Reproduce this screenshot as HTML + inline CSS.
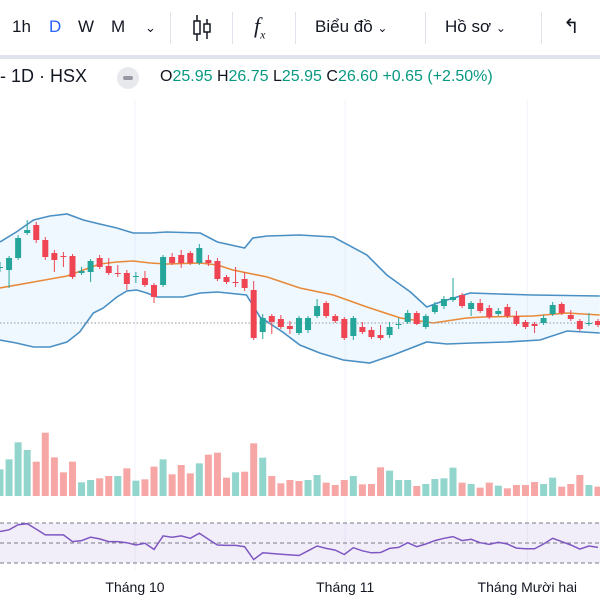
<!DOCTYPE html>
<html><head><meta charset="utf-8">
<style>
html,body{margin:0;padding:0;width:600px;height:600px;overflow:hidden;background:#fff;font-family:"Liberation Sans","Noto Sans CJK SC",sans-serif;color:#131722}
#tb{position:absolute;left:0;top:0;width:600px;height:55px;border-bottom:4px solid #e0e3eb;background:#fff}
.t{position:absolute;top:17px;font-size:17px}
.sep{position:absolute;top:12px;width:1px;height:32px;background:#e0e3eb}
#leg{position:absolute;top:66px;left:0;font-size:18px;white-space:nowrap}
.g{color:#089981}
svg{position:absolute;left:0;top:0}
</style></head><body>
<div id="tb">
<span class="t" style="left:12px">1h</span>
<span class="t" style="left:49px;color:#2962ff">D</span>
<span class="t" style="left:78px">W</span>
<span class="t" style="left:111px">M</span>
<span class="t" style="left:145px;font-size:13px;top:20px">⌄</span>
<div class="sep" style="left:170px"></div>
<svg width="20" height="30" style="left:193px;top:13px"><path d="M4 2v26M14 6v20" stroke="#131722" stroke-width="1.5"/><rect x="1" y="8" width="6" height="13" fill="#fff" stroke="#131722" stroke-width="1.5"/><rect x="11" y="11" width="6" height="8" fill="#fff" stroke="#131722" stroke-width="1.5"/></svg>
<div class="sep" style="left:232px"></div>
<span class="t" style="left:254px;font-style:italic;font-family:'Liberation Serif',serif;font-size:22px;top:13px">f<sub style="font-size:12px">x</sub></span>
<div class="sep" style="left:295px"></div>
<span class="t" style="left:315px">Biểu đồ <span style="font-size:12px">⌄</span></span>
<div class="sep" style="left:425px"></div>
<span class="t" style="left:445px">Hồ sơ <span style="font-size:12px">⌄</span></span>
<div class="sep" style="left:541px"></div>
<span class="t" style="left:563px;font-size:20px;top:14px">↰</span>
</div>
<div id="leg">
<span style="position:absolute;left:0">- 1D · HSX</span>
<span style="position:absolute;left:117px;top:1px;width:22px;height:22px;border-radius:11px;background:#e8e9ec"><span style="position:absolute;left:6px;top:9px;width:10px;height:4px;border-radius:2px;background:#9598a1"></span></span>
<span style="position:absolute;left:160px;top:2px;font-size:16px">O<span class="g">25.95</span> H<span class="g">26.75</span> L<span class="g">25.95</span> C<span class="g">26.60</span> <span class="g">+0.65 (+2.50%)</span></span>
</div>
<svg id="ch" width="600" height="600" style="top:0"></svg>
<script>
const opens=[29.4,29.25,29.85,31.1,31.5,30.75,30.1,29.95,29.95,29.1,29.15,29.85,29.45,29.1,29.1,28.95,28.85,28.5,28.5,29.9,30.0,30.1,29.6,29.75,29.7,28.9,28.65,28.8,28.25,26.15,26.95,26.8,26.45,26.1,26.25,26.95,27.6,26.95,26.8,25.95,26.4,26.25,26.0,26.0,26.55,26.65,27.1,26.4,27.15,27.45,27.75,28.0,27.3,27.6,27.35,27.05,27.4,26.95,26.65,26.55,26.6,27.05,27.55,27.0,26.7,26.6,26.7];
const highs=[29.65,29.95,31.0,31.75,31.65,30.9,30.25,30.15,30.05,29.4,29.8,30.0,29.85,29.5,29.25,29.15,29.2,28.6,30.0,30.1,30.25,30.2,30.55,30.0,29.85,29.0,29.4,29.15,28.7,27.05,27.05,27.0,26.7,26.95,26.95,27.8,27.7,27.05,26.9,26.95,26.65,26.4,26.5,26.65,26.85,27.25,27.2,27.05,27.65,27.95,28.85,28.1,27.7,27.8,27.5,27.35,27.55,27.2,26.75,26.65,27.0,27.65,27.65,27.25,26.8,27.1,26.8];
const lows=[29.15,28.35,29.75,31.0,30.6,29.75,29.15,29.4,28.8,29.0,28.65,29.3,29.0,28.9,28.25,28.6,28.4,27.6,28.4,29.5,29.35,29.5,29.5,29.45,28.7,28.55,28.4,28.2,25.75,25.8,26.05,26.3,26.05,26.0,26.1,26.85,26.85,26.6,25.75,25.75,26.05,25.8,25.75,25.85,26.3,26.55,26.5,26.3,27.05,27.3,27.65,27.35,26.95,27.1,26.8,26.95,26.85,26.45,26.3,26.1,26.5,26.95,27.0,26.7,26.2,26.45,26.4];
const closes=[29.4,29.85,30.85,31.25,30.75,29.9,29.75,29.9,28.9,29.2,29.7,29.4,29.1,29.05,28.55,28.95,28.5,27.9,29.9,29.6,29.6,29.6,30.35,29.6,28.8,28.65,28.6,28.35,25.85,26.85,26.65,26.4,26.3,26.85,26.85,27.45,26.95,26.7,25.85,26.85,26.15,25.9,25.85,26.4,26.55,27.1,26.55,26.95,27.5,27.8,27.9,27.45,27.6,27.2,26.9,27.2,26.95,26.55,26.4,26.45,26.85,27.5,27.1,26.8,26.3,26.6,26.5];
const volumes=[80,110,161,138,103,190,116,71,103,41,48,53,60,60,83,46,50,88,110,65,93,68,98,124,130,55,71,73,158,115,60,38,48,45,48,63,40,33,48,60,35,36,86,76,48,48,30,36,51,53,85,40,36,25,40,31,23,33,33,42,36,55,28,36,63,33,28];
const volUp=[1,1,1,1,0,0,0,0,0,1,1,0,0,1,0,1,0,0,1,0,0,0,1,0,0,0,1,0,0,1,0,0,0,0,1,1,0,0,0,1,0,0,0,1,1,1,0,1,1,1,1,0,1,0,0,1,0,0,0,0,1,1,0,0,0,1,0];
const upIdx=[0,1.8,3.7,5.5,7.4,9.2,11,12.9,14.7,16.6,18.4,22.1,24,27,27.9,29.5,33.1,36.8,40.5,42.7,45.3,47.1,48.6,51.9,55.2,58.8,66.2];
const upper=[30.65,31.15,31.75,31.95,32.05,31.75,31.55,31.35,31.1,31.1,31.15,31.1,30.65,30.35,30.85,30.95,31.0,30.9,30.0,29.0,28.15,27.4,27.65,28.1,28.05,28.0,27.95];
const loIdx=[0,1.8,3.7,5.5,7.4,8.8,10.3,11.4,12.9,14,15.1,16.2,17.3,20.2,22.1,24,27.2,28.7,31.2,33.1,35.3,37.9,40.8,43.4,47.1,49.3,52.2,56,59.6,62.6,66.2];
const lower=[25.75,25.6,25.4,25.4,25.65,26.15,27.1,27.35,27.9,28.2,28.25,28.1,27.9,27.9,28.1,28.15,28.0,26.9,26.15,25.5,25.1,24.75,24.6,25.0,25.65,25.55,25.6,25.65,25.75,26.2,26.1];
const midIdx=[0,3.7,7.4,9.2,11,12.9,14.7,16.6,18.4,22.1,24,25.7,29.5,33.1,36.8,40.5,44.2,47.8,51.5,53.3,58.8,62.6,66.2];
const middle=[28.35,28.65,28.95,29.25,29.55,29.65,29.7,29.6,29.55,29.6,29.5,29.25,28.9,28.35,28.0,27.4,26.85,26.6,26.85,26.9,26.95,27.1,27.0];
const rsi=[61.5,63.2,68.3,69.3,63.9,58.1,58.1,58.1,51.4,52.4,55.8,54.1,51.4,51.4,50.3,48.0,49.7,43.6,57.1,55.8,57.1,54.7,59.8,53.7,48.0,47.6,47.6,46.3,33.4,40.2,39.5,38.8,38.1,37.5,42.2,47.0,44.6,42.9,38.5,45.3,42.2,40.2,40.5,44.6,45.6,50.3,46.3,49.0,52.4,54.7,56.4,52.4,53.7,50.3,48.6,50.7,49.0,44.9,44.2,44.2,49.0,54.7,51.4,48.0,43.9,47.0,45.6];
const monthLabels=["Tháng 10","Tháng 11","Tháng Mười hai"];
const monthIdx=[14.9,38.1,58.2];
const lastPrice=26.6;

const NS="http://www.w3.org/2000/svg";
const svg=document.getElementById('ch');
const X=i=>i*9.06;
const Y=p=>323-(p-26.6)*20;
const VY=v=>496-v/3;
const RY=r=>563-(r-30);
function mk(t,a,parent){const e=document.createElementNS(NS,t);for(const k in a)e.setAttribute(k,a[k]);(parent||svg).appendChild(e);return e;}
// grid
monthIdx.forEach(m=>{const l=mk('line',{x1:X(m),x2:X(m),y1:100,y2:570,stroke:'#f0f3fa','stroke-width':1});

});
// band fill
let pts=upIdx.map((i,k)=>X(i)+','+Y(upper[k]));
for(let k=loIdx.length-1;k>=0;k--)pts.push(X(loIdx[k])+','+Y(lower[k]));
const bf=mk('polygon',{points:pts.join(' '),fill:'rgba(33,150,243,0.07)'});


function line(idx,vals,color,name){const p=mk('polyline',{points:idx.map((i,k)=>X(i)+','+Y(vals[k])).join(' '),fill:'none',stroke:color,'stroke-width':1.6});

}
line(upIdx,upper,'#4a8fc4','bollinger-upper');
line(loIdx,lower,'#4a8fc4','bollinger-lower');
line(midIdx,middle,'#e8893a','bollinger-basis');
const pl=mk('line',{x1:0,x2:600,y1:Y(lastPrice),y2:Y(lastPrice),stroke:'#9598a1','stroke-width':1,'stroke-dasharray':'1.5 2'});


// candles
opens.forEach((o,i)=>{const c=closes[i],up=c>=o,col=up?'#26a69a':'#ef4452';
const g=mk('g',{});


mk('line',{x1:X(i),x2:X(i),y1:Y(highs[i]),y2:Y(lows[i]),stroke:col,'stroke-width':1},g);
const t=Y(Math.max(o,c)),b=Y(Math.min(o,c));
mk('rect',{x:X(i)-3,y:t,width:6,height:Math.max(1,b-t),fill:col},g);});
// volume
volumes.forEach((v,i)=>{const r=mk('rect',{x:X(i)-3.5,y:VY(v),width:7,height:496-VY(v),fill:volUp[i]?'#92d5cd':'#f7a6a6'});

});
// RSI
const rb=mk('rect',{x:0,y:RY(70),width:600,height:RY(30)-RY(70),fill:'rgba(126,87,194,0.1)'});


[70,50,30].forEach(v=>{const l=mk('line',{x1:0,x2:600,y1:RY(v),y2:RY(v),stroke:'#787b86','stroke-width':1,'stroke-dasharray':'4 3'});

});
const rl=mk('polyline',{points:rsi.map((r,i)=>X(i)+','+RY(r)).join(' '),fill:'none',stroke:'#7e57c2','stroke-width':1.5});


// month labels
monthLabels.forEach((m,k)=>{const t=mk('text',{x:X(monthIdx[k]),y:592,'text-anchor':'middle','font-size':14,fill:'#131722','font-family':'Liberation Sans, sans-serif'});t.textContent=m;

});
</script>
</body></html>
